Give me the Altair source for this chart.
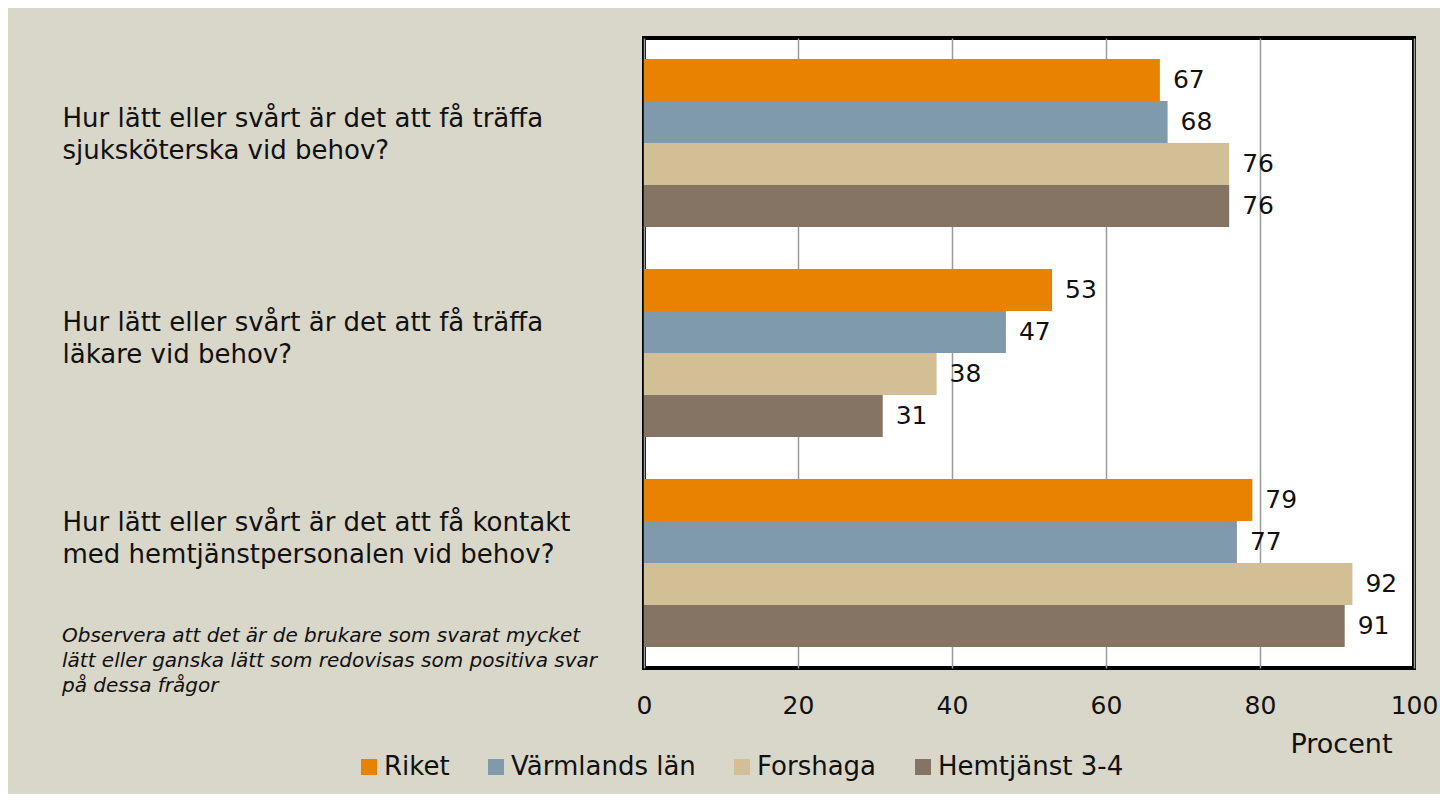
import altair as alt
import pandas as pd

questions = [
    "Hur lätt eller svårt är det att få träffa|sjuksköterska vid behov?",
    "Hur lätt eller svårt är det att få träffa|läkare vid behov?",
    "Hur lätt eller svårt är det att få kontakt|med hemtjänstpersonalen vid behov?",
]
series = ["Riket", "Värmlands län", "Forshaga", "Hemtjänst 3-4"]
colors = ["#E88200", "#7E9AAB", "#D3BF96", "#857463"]
values_riket = [67, 53, 79]
values_varmland = [68, 47, 77]
values_forshaga = [76, 38, 92]
values_hemtjanst = [76, 31, 91]
ticks = [0, 20, 40, 60, 80, 100]
note = "Observera att det är de brukare som svarat mycket\nlätt eller ganska lätt som redovisas som positiva svar\npå dessa frågor"

rows = []
for s, vals in zip(series, [values_riket, values_varmland, values_forshaga, values_hemtjanst]):
    for q, v in zip(questions, vals):
        rows.append({"question": q, "series": s, "value": v})
df = pd.DataFrame(rows)

FONT = "DejaVu Sans"
INK = "#111111"

y_enc = alt.Y(
    "question:N",
    sort=questions,
    scale=alt.Scale(paddingInner=0.2, paddingOuter=0.1),
    axis=alt.Axis(
        title=None,
        labelAlign="left",
        labelPadding=582,
        ticks=False,
        tickSize=0,
        domain=False,
        labelFontSize=26,
        labelLineHeight=32,
        labelLimit=0,
        labelBaseline="middle",
        labelColor=INK,
        labelFont=FONT,
        labelExpr="split(datum.label, '|')",
        labelOffset={
            "condition": [
                {"test": f"datum.value == '{questions[0]}'", "value": -24},
                {"test": f"datum.value == '{questions[1]}'", "value": -30},
            ],
            "value": -40,
        },
    ),
)
yoff = alt.YOffset("series:N", sort=series, scale=alt.Scale(paddingInner=0, paddingOuter=0))

x_enc = alt.X(
    "value:Q",
    scale=alt.Scale(domain=[0, 100], nice=False),
    axis=alt.Axis(
        values=ticks,
        grid=True,
        gridColor="#9a9a9a",
        gridWidth=1.5,
        domain=False,
        ticks=False,
        tickSize=0,
        labelFlush=False,
        labelFontSize=25,
        labelBaseline="middle",
        labelPadding=37,
        labelColor=INK,
        labelFont=FONT,
        title="Procent",
        titleFont=FONT,
        titleFontSize=27,
        titleFontWeight="normal",
        titleColor=INK,
        titleX=748,
        titleY=76,
        titleAlign="right",
        titleBaseline="middle",
    ),
)

bars = alt.Chart(df).mark_bar(size=42).encode(
    x=x_enc,
    y=y_enc,
    yOffset=yoff,
    color=alt.Color(
        "series:N",
        sort=series,
        scale=alt.Scale(domain=series, range=colors),
        legend=alt.Legend(
            title=None,
            orient="none",
            direction="horizontal",
            columns=4,
            legendX=-288,
            legendY=716,
            symbolType="square",
            symbolSize=256,
            symbolStrokeWidth=0,
            symbolOpacity=1,
            labelFontSize=26,
            labelFont=FONT,
            labelColor=INK,
            labelOffset=2,
            columnPadding=33,
            labelLimit=0,
        ),
    ),
)

labels = alt.Chart(df).mark_text(
    align="left", baseline="middle", dx=13, fontSize=25, font=FONT, color=INK
).encode(
    x="value:Q",
    y=alt.Y("question:N", sort=questions),
    yOffset=alt.YOffset("series:N", sort=series),
    text="value:Q",
)

note_df = pd.DataFrame({"note": [note]})
note_layer = alt.Chart(note_df).mark_text(
    align="left", baseline="top", fontSize=20, font=FONT, fontStyle="italic",
    lineHeight=25, color=INK, lineBreak="\n"
).encode(
    x=alt.value(-582),
    y=alt.value(588),
    text="note:N",
)

chart = alt.layer(bars, labels, note_layer).properties(
    width=770,
    height=630,
    background="#D9D6CA",
    padding={"left": 636, "top": 30, "right": 26, "bottom": 126},
    autosize=alt.AutoSizeParams(type="none"),
).configure_view(
    stroke="black", strokeWidth=4, fill="white"
)

chart.save("out.html", embed_options={"renderer": "svg", "actions": False})
